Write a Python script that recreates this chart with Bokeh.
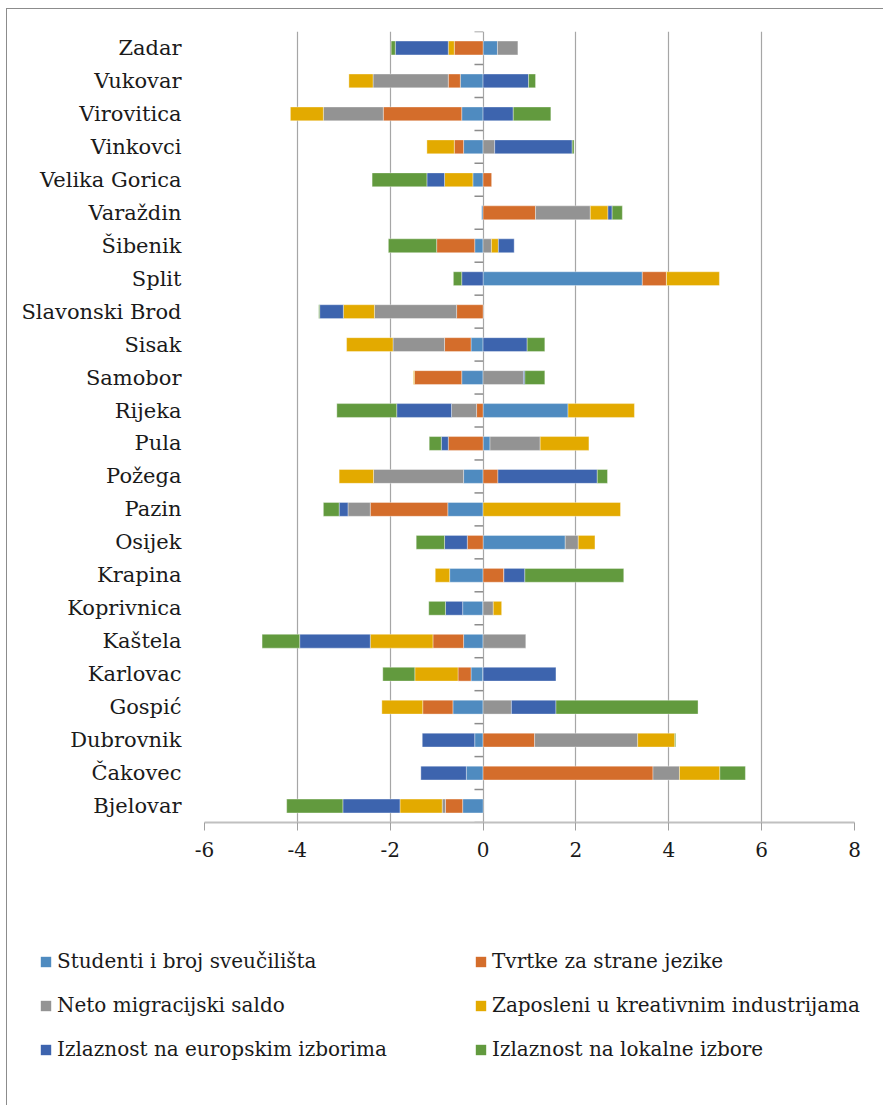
import numpy as np
from bokeh.plotting import figure
from bokeh.layouts import column
from bokeh.models import (Range1d, FixedTicker, Legend, LegendItem, ColumnDataSource)
from bokeh.embed import file_html
from bokeh.resources import INLINE

cities = ["Zadar", "Vukovar", "Virovitica", "Vinkovci", "Velika Gorica", "Varaždin",
          "Šibenik", "Split", "Slavonski Brod", "Sisak", "Samobor", "Rijeka", "Pula",
          "Požega", "Pazin", "Osijek", "Krapina", "Koprivnica", "Kaštela", "Karlovac",
          "Gospić", "Dubrovnik", "Čakovec", "Bjelovar"]

studenti = [0.31, -0.49, -0.46, -0.42, -0.22, -0.03, -0.18, 3.43, 0.0, -0.26, -0.46, 1.83,
            0.15, -0.42, -0.76, 1.77, -0.72, -0.44, -0.42, -0.26, -0.65, -0.18, -0.36, -0.44]
tvrtke = [-0.62, -0.26, -1.69, -0.20, 0.19, 1.13, -0.82, 0.52, -0.57, -0.57, -1.02, -0.14,
          -0.75, 0.32, -1.67, -0.34, 0.45, 0.0, -0.66, -0.28, -0.65, 1.11, 3.66, -0.37]
neto = [0.44, -1.62, -1.29, 0.25, 0.0, 1.18, 0.18, 0.0, -1.77, -1.11, 0.87, -0.54,
        1.08, -1.94, -0.48, 0.28, 0.0, 0.22, 0.92, 0.0, 0.61, 2.22, 0.57, -0.07]
zaposleni = [-0.13, -0.52, -0.71, -0.59, -0.61, 0.38, 0.15, 1.14, -0.67, -1.00, -0.02, 1.43,
             1.05, -0.74, 2.96, 0.36, -0.31, 0.18, -1.35, -0.93, -0.88, 0.80, 0.87, -0.91]
europski = [-1.14, 0.98, 0.65, 1.67, -0.38, 0.09, 0.34, -0.46, -0.51, 0.95, 0.03, -1.18,
            -0.15, 2.14, -0.19, -0.49, 0.45, -0.37, -1.52, 1.57, 0.96, -1.13, -0.98, -1.23]
lokalni = [-0.09, 0.15, 0.81, 0.04, -1.18, 0.22, -1.04, -0.18, -0.02, 0.38, 0.43, -1.29,
           -0.26, 0.22, -0.34, -0.61, 2.13, -0.36, -0.81, -0.69, 3.06, 0.02, 0.55, -1.21]

series_names = ["Studenti i broj sveučilišta", "Tvrtke za strane jezike",
                "Neto migracijski saldo", "Zaposleni u kreativnim industrijama",
                "Izlaznost na europskim izborima", "Izlaznost na lokalne izbore"]
series_values = [studenti, tvrtke, neto, zaposleni, europski, lokalni]
colors = ["#4F8BC0", "#D46D2B", "#939393", "#E3AA00", "#3D64AE", "#629A3E"]

x_ticks = [-6, -4, -2, 0, 2, 4, 6, 8]
x_tick_labels = ["-6", "-4", "-2", "0", "2", "4", "6", "8"]

n = len(cities)
ypos = np.arange(n)[::-1].astype(float)  # Zadar at top

SERIF = "DejaVu Serif"
TXT = "#1a1a1a"

p = figure(width=876, height=863, output_backend="svg", toolbar_location=None,
           x_range=Range1d(-6, 8), y_range=Range1d(-0.5, n - 0.5),
           min_border_left=197, min_border_right=29, min_border_top=22,
           min_border_bottom=50)
p.frame_align = False
p.outline_line_color = None
p.background_fill_color = "white"
p.border_fill_color = "white"

# legend figure (below the chart)
p2 = figure(width=876, height=233, output_backend="svg", toolbar_location=None,
            x_range=Range1d(-6, 8), y_range=Range1d(100, 101),
            x_axis_location=None, y_axis_location=None,
            min_border_left=0, min_border_right=0, min_border_top=0, min_border_bottom=0)
p2.frame_align = False
p2.outline_line_color = None
p2.xgrid.grid_line_color = None
p2.ygrid.grid_line_color = None

pos = np.zeros(n)
neg = np.zeros(n)
items = []
for name, vals, col in zip(series_names, series_values, colors):
    v = np.array(vals, dtype=float)
    left = np.where(v >= 0, pos, neg + v)
    right = np.where(v >= 0, pos + v, neg)
    pos = np.where(v >= 0, pos + v, pos)
    neg = np.where(v < 0, neg + v, neg)
    src = ColumnDataSource(dict(y=ypos, left=left, right=right))
    p.hbar(y="y", left="left", right="right", height=0.42, source=src,
           fill_color=col, line_color="white", line_width=0.6, line_alpha=0.6)
    r2 = p2.hbar(y="y", left="left", right="right", height=0.42, source=src,
                 fill_color=col, line_color=None)
    items.append(LegendItem(label=name, renderers=[r2]))

# category-boundary tick marks on the zero line
bounds = np.arange(n + 1) - 0.5
p.segment(x0=np.zeros(n + 1) - 0.185, x1=np.zeros(n + 1), y0=bounds, y1=bounds,
          line_color="#8c8c8c", line_width=1.5)

# x axis
p.xaxis.ticker = FixedTicker(ticks=x_ticks)
p.xaxis.major_label_overrides = {t: s for t, s in zip(x_ticks, x_tick_labels)}
p.xaxis.axis_line_color = "#c0c0c0"
p.xaxis.axis_line_width = 2
p.xaxis.major_tick_line_color = "#a0a0a0"
p.xaxis.major_tick_out = 8
p.xaxis.major_tick_in = 0
p.xaxis.minor_tick_line_color = None
p.xaxis.major_label_text_font = SERIF
p.xaxis.major_label_text_font_size = "20px"
p.xaxis.major_label_text_color = TXT
p.xaxis.major_label_standoff = 11

# y axis with city names
p.yaxis.ticker = FixedTicker(ticks=list(ypos))
p.yaxis.major_label_overrides = {int(yv): c for yv, c in zip(ypos, cities)}
p.yaxis.axis_line_color = None
p.yaxis.major_tick_line_color = None
p.yaxis.minor_tick_line_color = None
p.yaxis.major_label_text_font = SERIF
p.yaxis.major_label_text_font_size = "21px"
p.yaxis.major_label_text_color = TXT
p.yaxis.major_label_standoff = 17

p.xgrid.ticker = FixedTicker(ticks=x_ticks)
p.xgrid.grid_line_color = "#a6a6a6"
p.xgrid.grid_line_width = 1.2
p.ygrid.grid_line_color = None

legend = Legend(items=items, orientation="horizontal", ncols=2,
                location=(32, 44), padding=0, margin=0,
                border_line_color=None, background_fill_alpha=0,
                glyph_width=13, glyph_height=13, label_standoff=5,
                label_width=397, label_height=24, spacing=20,
                label_text_font=SERIF, label_text_font_size="20px",
                label_text_color=TXT)
p2.add_layout(legend, "center")

layout = column(p, p2, spacing=0)
layout.styles = {"margin-left": "6px", "margin-top": "8px",
                 "border-left": "1px solid #8c8c8c", "border-top": "1px solid #8c8c8c"}

open("out.html", "w").write(file_html(layout, INLINE))
